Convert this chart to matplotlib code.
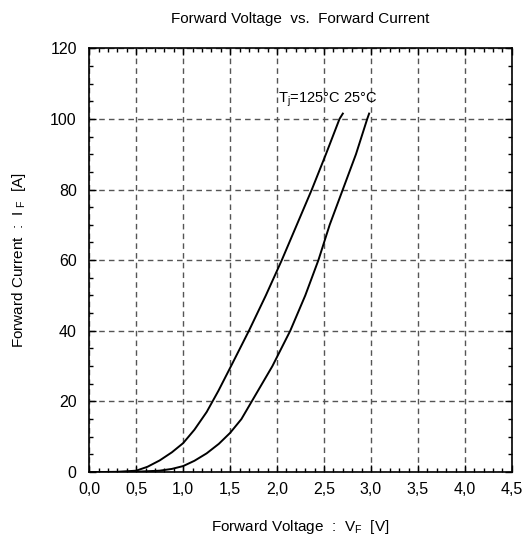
import matplotlib
matplotlib.use("Agg")
import matplotlib.pyplot as plt
from matplotlib.ticker import MultipleLocator, FuncFormatter

# Data
v_125 = [0.0, 0.3, 0.5, 0.62, 0.75, 0.88, 1.0, 1.12, 1.25, 1.375, 1.5, 1.70, 1.88, 2.05, 2.21, 2.37, 2.52, 2.665, 2.70]
i_125 = [0.0, 0.05, 0.4, 1.5, 3.3, 5.6, 8.2, 12.0, 17.0, 23.0, 29.5, 40.0, 50.0, 60.0, 70.0, 80.0, 90.0, 100.0, 101.5]
v_25 = [0.0, 0.5, 0.75, 0.88, 1.0, 1.12, 1.25, 1.38, 1.5, 1.62, 1.73, 1.95, 2.14, 2.30, 2.44, 2.56, 2.70, 2.84, 2.96, 2.98]
i_25 = [0.0, 0.1, 0.4, 0.9, 1.7, 3.2, 5.3, 8.0, 11.1, 15.0, 20.0, 30.0, 40.0, 50.0, 60.0, 70.0, 80.0, 90.0, 100.0, 101.5]

x_ticks = [0.0, 0.5, 1.0, 1.5, 2.0, 2.5, 3.0, 3.5, 4.0, 4.5]
y_ticks = [0, 20, 40, 60, 80, 100, 120]

plt.rcParams['font.family'] = ['Liberation Sans', 'DejaVu Sans']
plt.rcParams['mathtext.fontset'] = 'custom'
plt.rcParams['mathtext.rm'] = 'Liberation Sans'
plt.rcParams['mathtext.it'] = 'Liberation Sans'

fig = plt.figure(figsize=(5.25, 5.42), dpi=100)
ax = fig.add_axes([0.170, 0.129, 0.805, 0.782])

ax.plot(v_125, i_125, color='black', lw=1.4)
ax.plot(v_25, i_25, color='black', lw=1.4)

ax.set_xlim(0, 4.5)
ax.set_ylim(0, 120)
ax.set_xticks(x_ticks)
ax.set_yticks(y_ticks)
ax.xaxis.set_minor_locator(MultipleLocator(0.1))
ax.yaxis.set_minor_locator(MultipleLocator(5))
ax.xaxis.set_major_formatter(FuncFormatter(lambda v, p: f"{v:.1f}".replace('.', ',')))

ax.tick_params(which='both', direction='in', top=True, right=True, labelsize=11.5, colors='black')
ax.tick_params(which='major', length=5, width=1)
ax.tick_params(which='minor', length=3, width=1)
ax.tick_params(axis='x', pad=7)
ax.tick_params(axis='y', pad=9)

ax.grid(True, which='major', linestyle=(0, (4, 3)), color='#555555', lw=1)
for s in ax.spines.values():
    s.set_linewidth(1.2)

ax.set_title("Forward Voltage  vs.  Forward Current", fontsize=11, pad=18)
ax.set_xlabel(r"Forward Voltage  :  V$_\mathregular{F}$  [V]", fontsize=11, labelpad=15)
ax.set_ylabel(r"Forward Current  :  I $_\mathregular{F}$  [A]", fontsize=11, labelpad=16)

ax.text(2.01, 105.5, r"T$_\mathregular{j}$=125°C 25°C", fontsize=10.5, va='center', ha='left')

fig.savefig("out.png", dpi=100)
